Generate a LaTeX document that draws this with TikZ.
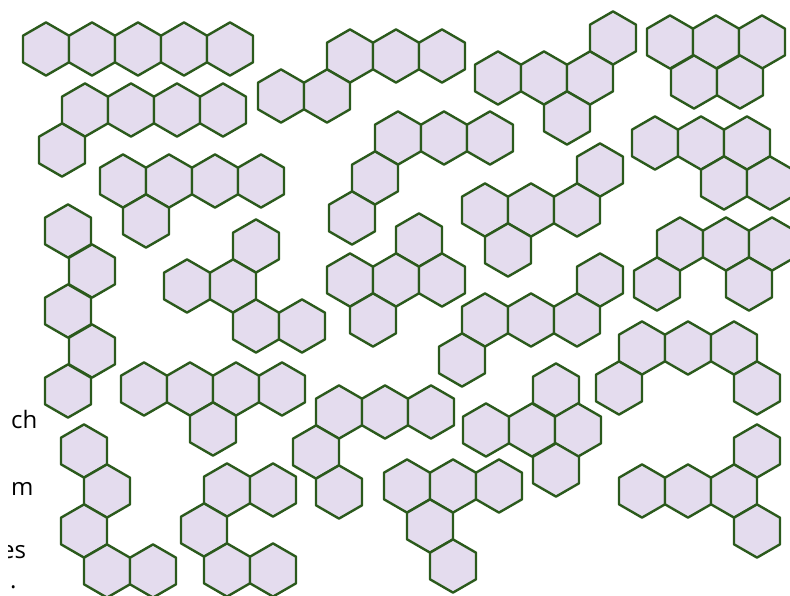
\documentclass[tikz,border=0pt]{standalone}
\usepackage{fontspec}
\setsansfont{Open Sans}
\definecolor{hexfill}{HTML}{E4DCEE}
\definecolor{hexline}{HTML}{2B5A1C}

\begin{document}
\begin{tikzpicture}[x=1pt, y=-1pt,
  cell/.style={fill=hexfill, draw=hexline, line width=2.4pt, line join=round},
  margin/.style={font=\sffamily\fontsize{24}{29}\selectfont, anchor=base west, inner sep=0pt},
  hexcell/.pic={\path[cell] (90:26.6) -- (150:26.6) -- (210:26.6) -- (270:26.6)
                 -- (330:26.6) -- (30:26.6) -- cycle;},
]
  \useasboundingbox (0,0) rectangle (790,596);

  % top band
  \foreach \x/\y in {46/49, 92/49, 138/49, 184/49, 230/49} \pic at (\x,\y) {hexcell};
  \foreach \x/\y in {85/110, 131/110, 177/110, 223/110, 62/150} \pic at (\x,\y) {hexcell};
  \foreach \x/\y in {123/181, 169/181, 215/181, 261/181, 146/221} \pic at (\x,\y) {hexcell};
  \foreach \x/\y in {350/56, 396/56, 442/56, 281/96, 327/96} \pic at (\x,\y) {hexcell};
  \foreach \x/\y in {613/38, 498/78, 544/78, 590/78, 567/118} \pic at (\x,\y) {hexcell};
  \foreach \x/\y in {670/42, 716/42, 762/42, 694/82, 740/82} \pic at (\x,\y) {hexcell};
  \foreach \x/\y in {655/143, 701/143, 747/143, 724/183, 770/183} \pic at (\x,\y) {hexcell};
  \foreach \x/\y in {398/138, 444/138, 490/138, 375/178, 352/218} \pic at (\x,\y) {hexcell};

  % middle band
  \foreach \x/\y in {68/231, 92/271, 68/311, 92/351, 68/391} \pic at (\x,\y) {hexcell};
  \foreach \x/\y in {256/246, 187/286, 233/286, 256/326, 302/326} \pic at (\x,\y) {hexcell};
  \foreach \x/\y in {419/240, 350/280, 396/280, 442/280, 373/320} \pic at (\x,\y) {hexcell};
  \foreach \x/\y in {600/170, 485/210, 531/210, 577/210, 508/250} \pic at (\x,\y) {hexcell};
  \foreach \x/\y in {680/244, 726/244, 772/244, 657/284, 749/284} \pic at (\x,\y) {hexcell};
  \foreach \x/\y in {600/280, 485/320, 531/320, 577/320, 462/360} \pic at (\x,\y) {hexcell};
  \foreach \x/\y in {642/348, 688/348, 734/348, 619/388, 757/388} \pic at (\x,\y) {hexcell};

  % bottom band
  \foreach \x/\y in {144/389, 190/389, 236/389, 282/389, 213/429} \pic at (\x,\y) {hexcell};
  \foreach \x/\y in {339/412, 385/412, 431/412, 316/452, 339/492} \pic at (\x,\y) {hexcell};
  \foreach \x/\y in {556/390, 486/430, 532/430, 578/430, 556/470} \pic at (\x,\y) {hexcell};
  \foreach \x/\y in {84/451, 107/491, 84/531, 107/571, 153/571} \pic at (\x,\y) {hexcell};
  \foreach \x/\y in {227/490, 273/490, 204/530, 227/570, 273/570} \pic at (\x,\y) {hexcell};
  \foreach \x/\y in {407/486, 453/486, 499/486, 430/526, 453/566} \pic at (\x,\y) {hexcell};
  \foreach \x/\y in {757/451, 642/491, 688/491, 734/491, 757/531} \pic at (\x,\y) {hexcell};

  % cut-off text at the left edge
  \node[margin] (ch) at (11,428) {ch};
  \node[margin] (m) at (11,495) {m};
  \begin{scope}
    \clip (8,530) rectangle (40,565);
    \node[margin] (es) at (1,558) {es};
  \end{scope}
  \node[margin] (dot) at (10,588) {.};
\end{tikzpicture}
\end{document}
